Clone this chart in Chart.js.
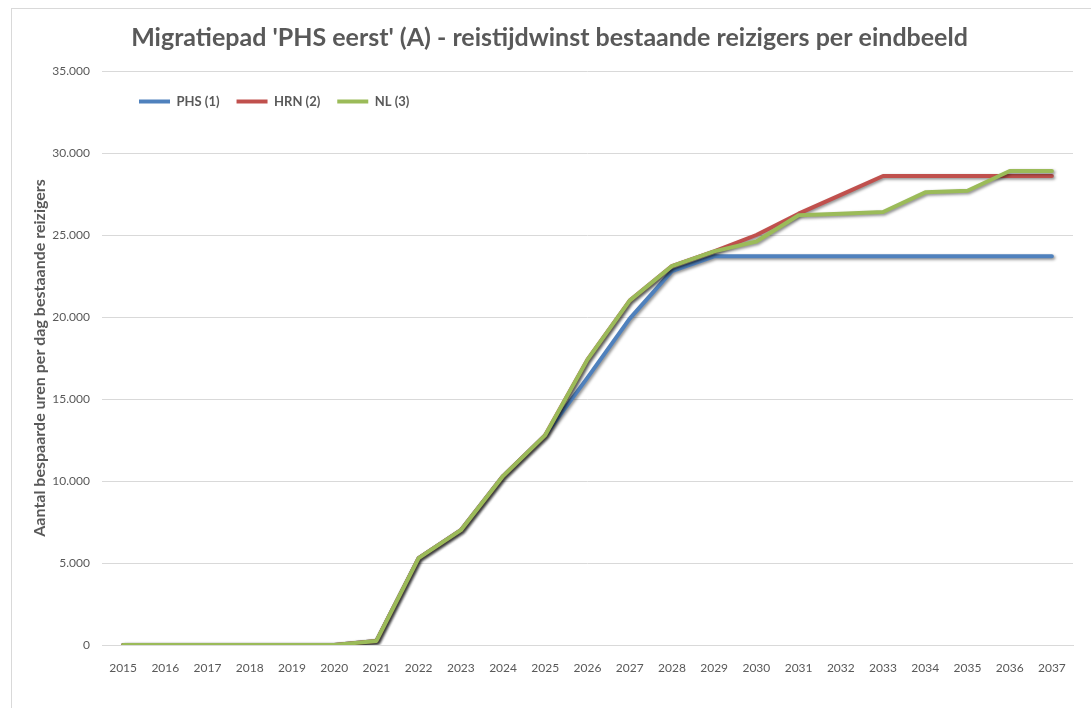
<!DOCTYPE html>
<html>
<head>
<meta charset="utf-8">
<script src="https://cdn.jsdelivr.net/npm/chart.js@4"></script>
<style>
  html, body { margin: 0; padding: 0; background: #fff; }
  #wrap { position: relative; width: 1091px; height: 708px; }
  #frame { position: absolute; left: 11px; top: 8px; right: -5px; bottom: -5px; border: 1px solid #d9d9d9; }
  #chart { position: absolute; left: 0; top: 0; }
</style>
</head>
<body>
<div id="wrap">
  <div id="frame"></div>
  <canvas id="chart" width="1091" height="708"></canvas>
</div>
<script>
const years = ["2015", "2016", "2017", "2018", "2019", "2020", "2021", "2022", "2023", "2024", "2025", "2026",
               "2027", "2028", "2029", "2030", "2031", "2032", "2033", "2034", "2035", "2036", "2037"];
const phs = [0, 0, 0, 0, 0, 0, 250, 5300, 7000, 10300, 12800, 16300, 19900, 22800, 23700,
             23700, 23700, 23700, 23700, 23700, 23700, 23700, 23700];
const hrn = [0, 0, 0, 0, 0, 0, 250, 5300, 7000, 10300, 12800, 17400, 21000, 23100, 24000,
             25000, 26300, 27450, 28600, 28600, 28600, 28600, 28600];
const nl = [0, 0, 0, 0, 0, 0, 250, 5300, 7000, 10300, 12800, 17400, 21000, 23100, 24000,
            24600, 26200, 26300, 26400, 27600, 27700, 28900, 28900];

const grey = "#595959";
const font = "Lato";

function nlFormat(v) {
    return String(v).replace(/\B(?=(\d{3})+(?!\d))/g, ".");
}

// Excel-like drop shadow under the lines
const shadow = {
    id: "shadow",
    beforeDatasetsDraw(chart) {
        const c = chart.ctx;
        c.save();
        c.shadowColor = "rgba(0,0,0,0.45)";
        c.shadowBlur = 3;
        c.shadowOffsetX = 1.5;
        c.shadowOffsetY = 1.5;
    },
    afterDatasetsDraw(chart) {
        chart.ctx.restore();
    }
};

// legend sits inside the plot area, so it takes no layout space
const legendInside = {
    id: "legendInside",
    beforeLayout(chart) {
        const leg = chart.legend;
        if (leg && !leg._patched) {
            const fit = leg.fit;
            leg.fit = function () { fit.call(this); this.height = 0; };
            leg._patched = true;
        }
    },
    afterLayout(chart) {
        const leg = chart.legend;
        leg.left = chart.chartArea.left + 20;
        leg.top = chart.chartArea.top + 7;
        leg.right = chart.chartArea.right;
        leg.bottom = leg.top + 40;
    }
};

const ds = (label, data, color, order) => ({
    label: label,
    data: data,
    borderColor: color,
    backgroundColor: color,
    borderWidth: 4,
    pointRadius: 0,
    tension: 0,
    borderCapStyle: "round",
    borderJoinStyle: "round",
    order: order
});

new Chart(document.getElementById("chart").getContext("2d"), {
    type: "line",
    data: {
        labels: years,
        datasets: [
            ds("PHS (1)", phs, "#4f81bd", 3),
            ds("HRN (2)", hrn, "#c0504d", 2),
            ds("NL (3)", nl, "#9bbb59", 1)
        ]
    },
    plugins: [shadow, legendInside],
    options: {
        responsive: false,
        animation: false,
        layout: { padding: { left: 26, right: 18, top: 10, bottom: 0 } },
        plugins: {
            title: {
                display: true,
                text: "Migratiepad 'PHS eerst' (A) - reistijdwinst bestaande reizigers per eindbeeld",
                color: grey,
                font: { family: font, size: 25, weight: "bold" },
                padding: { top: 13, bottom: 18 }
            },
            legend: {
                position: "top",
                align: "start",
                labels: {
                    usePointStyle: true,
                    pointStyle: "line",
                    pointStyleWidth: 31,
                    padding: 17,
                    color: grey,
                    font: { family: font, size: 13, weight: "bold" },
                    sort: (a, b) => a.datasetIndex - b.datasetIndex
                }
            },
            tooltip: { enabled: false }
        },
        scales: {
            x: {
                offset: true,
                grid: { display: false },
                border: { display: true, color: "#d9d9d9" },
                ticks: { color: grey, padding: 8, maxRotation: 0, autoSkip: false, font: { family: font, size: 12 } },
                afterFit: (s) => { s.height = 63; }
            },
            y: {
                min: 0,
                max: 35000,
                ticks: { stepSize: 5000, color: grey, padding: 12, font: { family: font, size: 12 }, callback: (v) => nlFormat(v) },
                grid: { color: "#d9d9d9", drawTicks: false },
                border: { display: false },
                title: {
                    display: true,
                    text: "Aantal bespaarde uren per dag bestaande reizigers",
                    color: grey,
                    font: { family: font, size: 16, weight: "bold" }
                },
                afterFit: (s) => { s.width = 76; }
            }
        }
    }
});
</script>
</body>
</html>
